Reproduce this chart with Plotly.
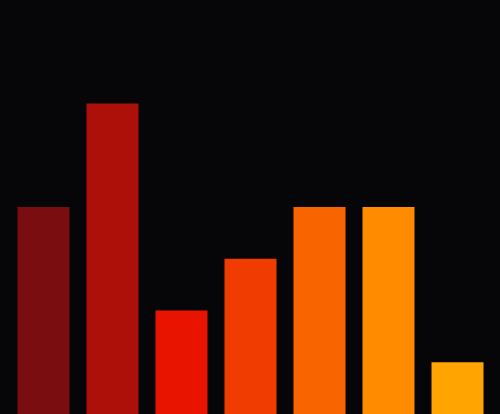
import plotly.graph_objects as go

categories = ["A", "B", "C", "D", "E", "F", "G"]
values = [4, 6, 2, 3, 4, 4, 1]
colors = ["#7a0d10", "#ad1008", "#e81400", "#f03c00", "#f86400", "#fe8b00", "#ffa400"]

bg = "#060608"

fig = go.Figure()
fig.add_trace(go.Bar(
    x=categories,
    y=values,
    marker=dict(color=colors, line=dict(width=0)),
    hoverinfo="skip",
))

fig.update_layout(
    width=500,
    height=414,
    margin=dict(l=9, r=8, t=0, b=0),
    paper_bgcolor=bg,
    plot_bgcolor=bg,
    bargap=0.246,
    showlegend=False,
    xaxis=dict(visible=False, range=[-0.5, 6.5]),
    yaxis=dict(visible=False, range=[0, 8]),
)

# page body: no default margin, dark background
fig.write_html(
    "out.html",
    config={"displayModeBar": False},
    post_script="document.body.style.margin='0';document.body.style.background='%s';" % bg,
)
